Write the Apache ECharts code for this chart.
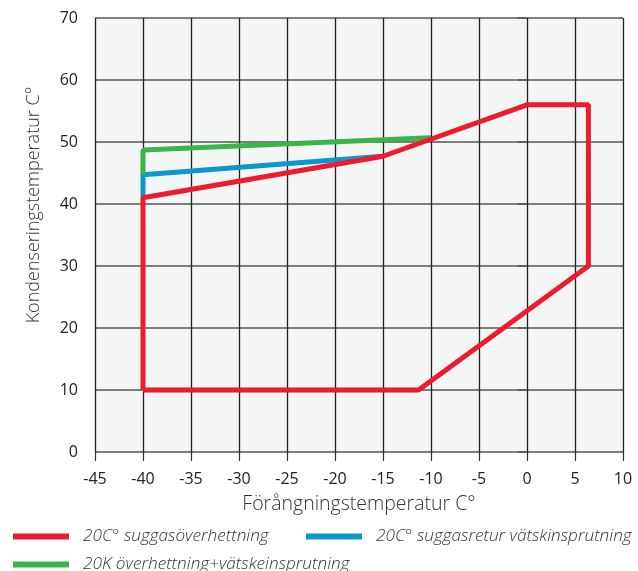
<!DOCTYPE html>
<html><head><meta charset="utf-8">
<script src="https://cdn.jsdelivr.net/npm/echarts@6/dist/echarts.min.js"></script>
<style>html,body{margin:0;padding:0;background:#fff}#c{width:638px;height:571px}</style>
</head><body><div id="c"></div>
<script>
const xAxisName = 'Förångningstemperatur C°';
const yAxisName = 'Kondenseringstemperatur C°';
const seriesNames = ['20C° suggasöverhettning', '20C° suggasretur vätskinsprutning', '20K överhettning+vätskeinsprutning'];
const redPoints = [[-40,10],[-40,41],[-15,47.7],[0,56],[6.4,56],[6.4,30],[-11.3,10],[-40,10]];
const bluePoints = [[-40,41],[-40,44.7],[-15,47.7]];
const greenPoints = [[-40,44.7],[-40,48.7],[-10,50.7]];
const colors = ['#ec1b30', '#0a98cc', '#3bb449'];

const chart = echarts.init(document.getElementById('c'));
const font = '"Open Sans", Roboto, sans-serif';
const legendText = {fontSize: 17.2, fontStyle: 'italic', fontWeight: 300, color: '#333', fontFamily: font, padding: [0,0,0,9]};
chart.setOption({
  animation: false,
  grid: {left: 95, right: 15, top: 18, bottom: 119, show: true, backgroundColor: '#f4f5f5', borderWidth: 0},
  xAxis: {
    type: 'value', min: -45, max: 10, interval: 5,
    name: xAxisName, nameLocation: 'middle', nameGap: 42,
    nameTextStyle: {fontSize: 19.5, color: '#333', fontFamily: font, fontWeight: 300},
    axisLine: {show: false},
    axisTick: {show: true, length: 9, lineStyle: {color: '#333', width: 1.2}},
    axisLabel: {fontSize: 16, color: '#222', fontFamily: font, margin: 19},
    splitLine: {show: true, lineStyle: {color: '#222', width: 1.3}}
  },
  yAxis: {
    type: 'value', min: 0, max: 70, interval: 10,
    name: yAxisName, nameLocation: 'middle', nameGap: 52,
    nameTextStyle: {fontSize: 18, color: '#333', fontFamily: font, fontWeight: 300, padding: [0, 0, 0, 60]},
    axisLine: {show: false},
    axisTick: {show: true, length: 9, lineStyle: {color: '#555', width: 1.5}},
    axisLabel: {fontSize: 16, color: '#222', fontFamily: font, margin: 17},
    splitLine: {show: true, lineStyle: {color: '#555', width: 1.5}}
  },
  legend: [
    {data: [seriesNames[0]], left: 8, top: 523, icon: 'rect', itemWidth: 56, itemHeight: 6, textStyle: legendText},
    {data: [seriesNames[1]], left: 301, top: 523, icon: 'rect', itemWidth: 56, itemHeight: 6, textStyle: legendText},
    {data: [seriesNames[2]], left: 8, top: 551, icon: 'rect', itemWidth: 56, itemHeight: 6, textStyle: legendText}
  ],
  series: [
    {name: seriesNames[0], type: 'line', data: redPoints, symbol: 'none', lineStyle: {color: colors[0], width: 5}, itemStyle: {color: colors[0]}, z: 5},
    {name: seriesNames[1], type: 'line', data: bluePoints, symbol: 'none', lineStyle: {color: colors[1], width: 5}, itemStyle: {color: colors[1]}, z: 3},
    {name: seriesNames[2], type: 'line', data: greenPoints, symbol: 'none', lineStyle: {color: colors[2], width: 5}, itemStyle: {color: colors[2]}, z: 3}
  ]
});
</script></body></html>
